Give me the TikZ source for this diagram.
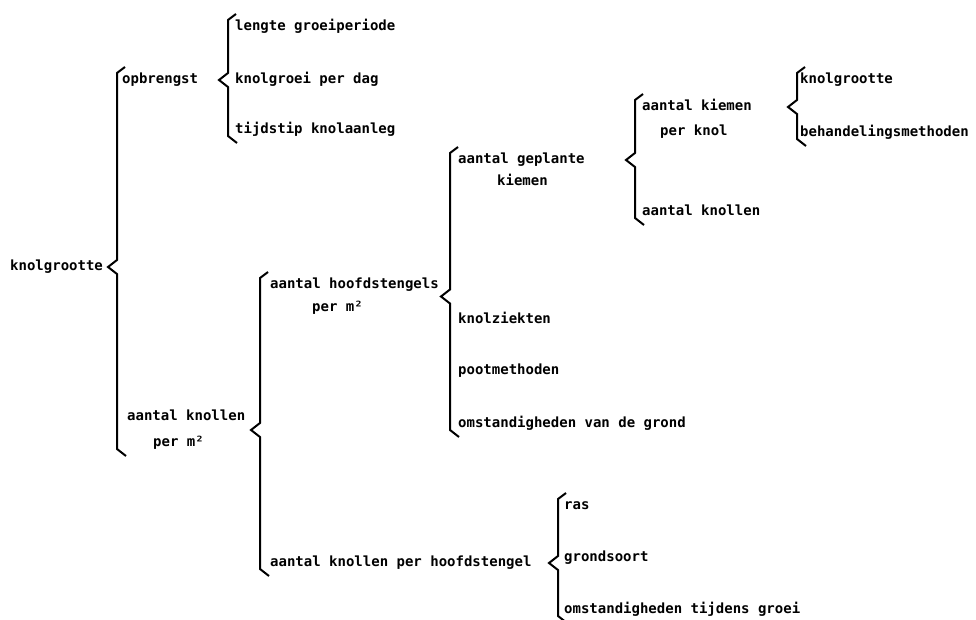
\documentclass[tikz,border=0pt]{standalone}
\usepackage{fontspec}
\setmonofont{DejaVu Sans Mono}
\usetikzlibrary{calc}
\tikzset{
	txt/.style={anchor=west,inner sep=0pt,text height=10pt,text depth=3pt,font=\ttfamily\bfseries\fontsize{14}{16}\selectfont},
	bracket/.style={line width=2pt,line join=miter}
}
% brace: bar x, tip, first child, last child
\newcommand{\brak}[4]{%
	\draw[bracket] let \p1=#2, \p2=#3, \p3=#4 in
		({#1pt+8pt},{\y2+13pt}) -- ({#1pt},{\y2+7pt}) -- ({#1pt},{\y1+7pt}) -- ({#1pt-9pt},{\y1})
		-- ({#1pt},{\y1-7pt}) -- ({#1pt},{\y3-6pt}) -- ({#1pt+9pt},{\y3-13pt});
}
\begin{document}
\begin{tikzpicture}[x=1pt,y=-1pt]
	\useasboundingbox (0,0) rectangle (976,620);
	% root
		\node[txt] (knolgr) at (10,267) {knolgrootte};
	% first level
		\node[txt] (opbr) at (122,80) {opbrengst};
		\node[txt] (knm1) at (127,417) {aantal knollen};
		\node[txt] (knm2) at (153,443) {per m²};
	% opbrengst
		\node[txt] (lengte) at (235,27) {lengte groeiperiode};
		\node[txt] (groei) at (235,80) {knolgroei per dag};
		\node[txt] (tijdstip) at (235,130) {tijdstip knolaanleg};
	% knollen per m2
		\node[txt] (hst1) at (270,285) {aantal hoofdstengels};
		\node[txt] (hst2) at (312,308) {per m²};
		\node[txt] (kph) at (270,563) {aantal knollen per hoofdstengel};
	% hoofdstengels
		\node[txt] (gepl1) at (458,160) {aantal geplante};
		\node[txt] (gepl2) at (497,182) {kiemen};
		\node[txt] (ziekte) at (458,320) {knolziekten};
		\node[txt] (poot) at (458,371) {pootmethoden};
		\node[txt] (omgrond) at (458,424) {omstandigheden van de grond};
	% geplante kiemen
		\node[txt] (kiem1) at (642,107) {aantal kiemen};
		\node[txt] (kiem2) at (660,132) {per knol};
		\node[txt] (aknol) at (642,212) {aantal knollen};
	% kiemen per knol
		\node[txt] (kgr) at (800,80) {knolgrootte};
		\node[txt] (behand) at (800,133) {behandelingsmethoden};
	% knollen per hoofdstengel
		\node[txt] (ras) at (564,506) {ras};
		\node[txt] (grond) at (564,558) {grondsoort};
		\node[txt] (omgroei) at (564,610) {omstandigheden tijdens groei};
	% braces
		\brak{117}{(knolgr)}{(opbr)}{(knm2)}
		\brak{228}{(opbr)}{(lengte)}{(tijdstip)}
		\brak{260}{($(knm1)!.5!(knm2)$)}{(hst1)}{(kph)}
		\brak{450}{($(hst1)!.5!(hst2)$)}{(gepl1)}{(omgrond)}
		\brak{635}{(gepl1)}{(kiem1)}{(aknol)}
		\brak{797}{(kiem1)}{(kgr)}{(behand)}
		\brak{558}{(kph)}{(ras)}{(omgroei)}
\end{tikzpicture}
\end{document}
